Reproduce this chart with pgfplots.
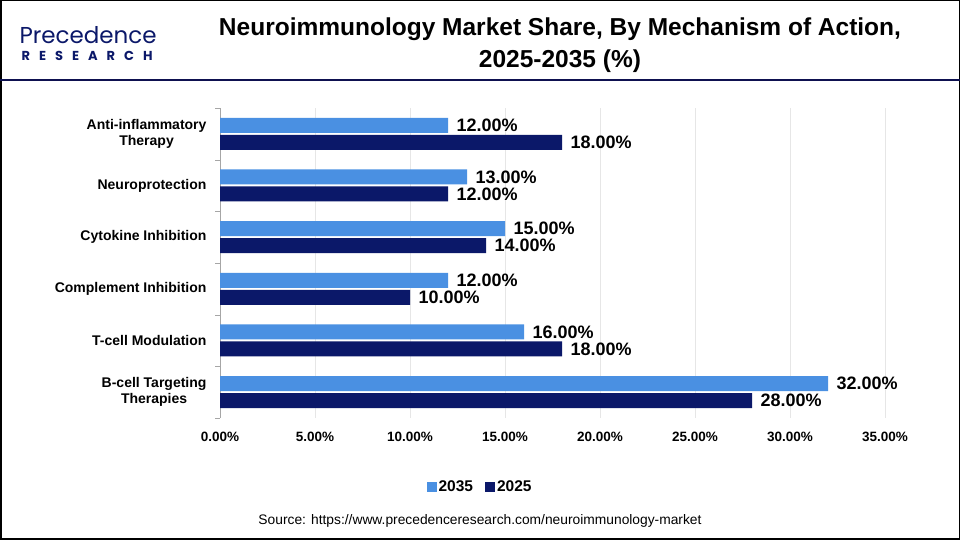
\documentclass[border=0pt]{standalone}
\usepackage{pgfplots}
\pgfplotsset{compat=1.18}
\usepackage{fontspec}
\setmainfont{Liberation Sans}
\newfontfamily\logofont{Poppins}
\definecolor{lightbar}{HTML}{4A90E2}
\definecolor{darkbar}{HTML}{0B1869}
\definecolor{navy}{HTML}{0E1150}
\definecolor{gridc}{HTML}{E6E6E6}
\begin{document}
\begin{tikzpicture}[x=1pt,y=1pt]
\path[use as bounding box] (0,0) rectangle (960,540);
\draw[black,line width=1.5pt] (0.75,0.75) rectangle (959.25,539.25);
\draw[navy,line width=2pt] (0,460) -- (960,460);
% logo
\node[anchor=west,text=darkbar,font=\logofont\fontsize{23}{23}\selectfont] at (16,505) {Precedence};
\node[anchor=west,text=darkbar,font=\logofont\bfseries\fontsize{13}{13}\selectfont] at (18,484) {R\hspace{9pt}E\hspace{9pt}S\hspace{9pt}E\hspace{9pt}A\hspace{9pt}R\hspace{9pt}C\hspace{9pt}H};
% title
\node[font=\bfseries\fontsize{24.5}{24.5}\selectfont,align=center] at (560,495) {Neuroimmunology Market Share, By Mechanism of Action,\\[7pt]2025-2035 (\%)};
% source
\node[font=\fontsize{13.8}{13.8}\selectfont] at (480,19) {Source: https://www.precedenceresearch.com/neuroimmunology-market};
\begin{axis}[
  at={(220pt,122pt)}, anchor=south west,
  scale only axis, width=665pt, height=310pt,
  xbar, bar width=15pt,
  xmin=0, xmax=35, ymin=-0.5, ymax=5.5,
  xtick={0,5,...,35},
  xticklabel={\pgfmathprintnumber[fixed,fixed zerofill,precision=2]{\tick}\%},
  /pgf/number format/assume math mode=true,
  xticklabel style={font=\bfseries\fontsize{13.5}{13.5}\selectfont, yshift=-11pt},
  ytick={0,...,5},
  yticklabels={{B-cell Targeting\\Therapies},{T-cell Modulation},{Complement Inhibition},{Cytokine Inhibition},{Neuroprotection},{Anti-inflammatory\\Therapy}},
  yticklabel style={font=\bfseries\fontsize{14}{16}\selectfont, align=center, xshift=-10pt},
  minor ytick={-0.5,0.5,...,5.5},
  minor tick length=5pt,
  minor y tick style={draw=gray!70},
  major tick length=0pt,
  xmajorgrids, grid style={gridc, line width=0.8pt},
  axis x line*=bottom,
  x axis line style={draw=none},
  axis y line*=left,
  y axis line style={draw=gray!70, line width=1pt, -},
  tick align=outside,
  xtick style={draw=none},
  clip=false,
  nodes near coords={\pgfmathprintnumber[fixed,fixed zerofill,precision=2]{\pgfplotspointmeta}\%},
  nodes near coords style={font=\bfseries\fontsize{18}{18}\selectfont, anchor=west, xshift=5pt},
  every node near coord/.append style={/pgf/number format/assume math mode=true},
  legend style={at={(0.391,-0.2226)}, anchor=center, draw=none, legend columns=2, font=\bfseries\fontsize{15.5}{15.5}\selectfont, /tikz/every even column/.append style={column sep=10pt}},
  legend image code/.code={\fill[#1] (0pt,-5pt) rectangle (10pt,5pt);},
]
\addplot[fill=lightbar, draw=none, bar shift=8.5pt] coordinates {(32,0) (16,1) (12,2) (15,3) (13,4) (12,5)};
\addplot[fill=darkbar, draw=none, bar shift=-8.5pt] coordinates {(28,0) (18,1) (10,2) (14,3) (12,4) (18,5)};
\legend{2035,2025}
\end{axis}
\end{tikzpicture}
\end{document}
